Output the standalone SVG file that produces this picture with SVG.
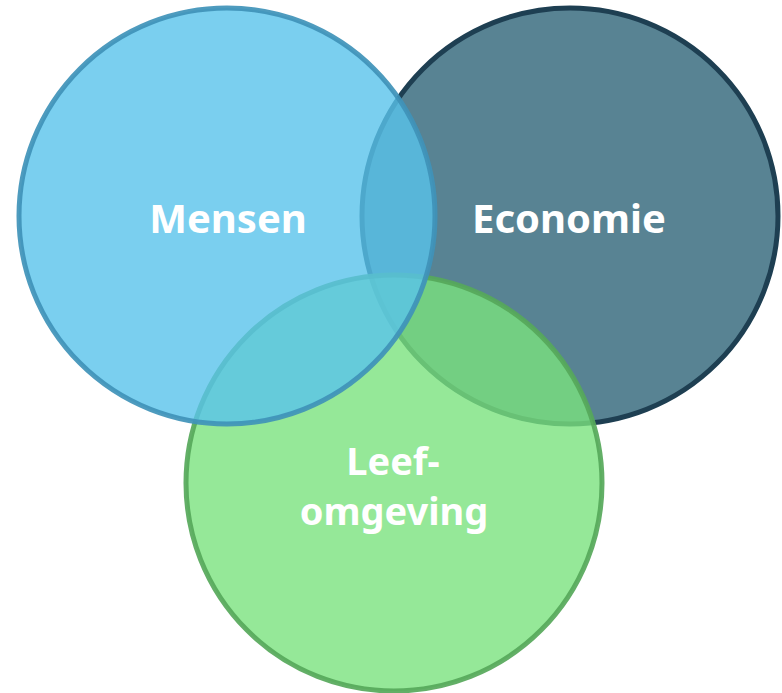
<svg xmlns="http://www.w3.org/2000/svg" width="782" height="693" viewBox="0 0 782 693">
<style>
.c{stroke-width:5}
.t{font-family:"Noto Sans","Open Sans","Liberation Sans",sans-serif;font-weight:bold;font-size:40px;fill:#ffffff;text-anchor:middle}
.s{font-size:38px}
</style>
<rect width="782" height="693" fill="#ffffff"/>
<g id="economie">
<circle class="c" cx="570" cy="216" r="208" fill="#588393" stroke="#1E3F52"/>
</g>
<g id="leefomgeving">
<circle class="c" cx="394" cy="483" r="208" fill="#7AE27E" fill-opacity="0.8" stroke="#56A85A" stroke-opacity="0.92"/>
</g>
<g id="mensen">
<circle class="c" cx="227" cy="216" r="208" fill="#59C3EB" fill-opacity="0.8" stroke="#3F92B8" stroke-opacity="0.92"/>
</g>
<g id="labels">
<text class="t" x="228" y="233">Mensen</text>
<text class="t" x="569" y="233">Economie</text>
<text class="t s" x="393" y="475">Leef-</text>
<text class="t s" x="394" y="525">omgeving</text>
</g>
</svg>
